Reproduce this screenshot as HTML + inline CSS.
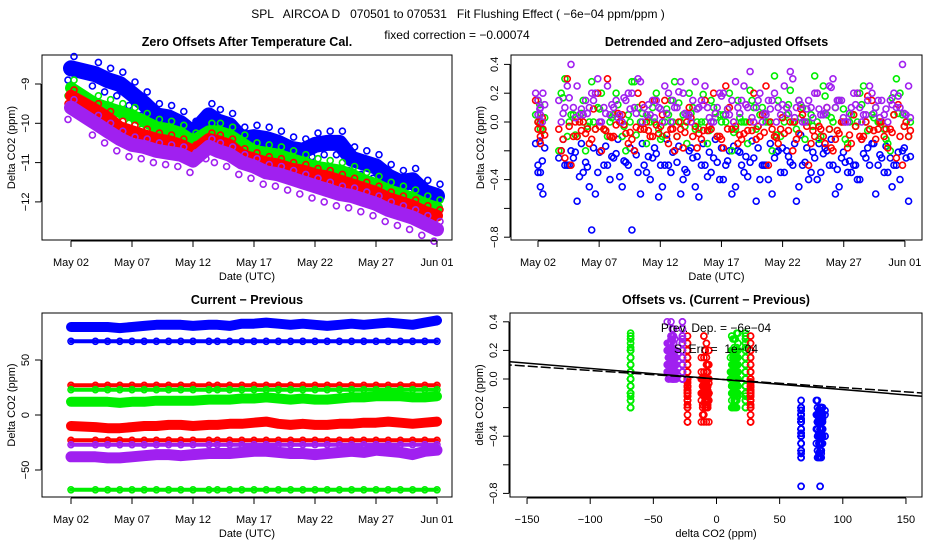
<!DOCTYPE html>
<html><head><meta charset="utf-8">
<style>
html,body{margin:0;padding:0;background:#fff;}
svg{display:block;font-family:"Liberation Sans",sans-serif;}
.pre{white-space:pre;}
</style></head>
<body>
<svg id="chart" width="936" height="540" viewBox="0 0 936 540" xmlns="http://www.w3.org/2000/svg">
<defs><clipPath id="clip4"><rect x="510" y="313" width="412" height="184"/></clipPath></defs>
<text class="pre" x="458" y="18" font-size="12" text-anchor="middle">SPL   AIRCOA D   070501 to 070531   Fit Flushing Effect ( −6e−04 ppm/ppm )</text>
<text x="457" y="39" font-size="12" text-anchor="middle">fixed correction = −0.00074</text>
</svg>
<script>
// ---------- DATA ----------
const days1 = [1,3,4,5,6,7,8,9,10,11,12.3,13,14,15,16,17,18,19,20,21,22,23,24,25,26,27,28,29,30,31];
const blueOff = [-8.6,-8.75,-8.9,-9.0,-9.25,-9.5,-9.8,-9.85,-10.0,-10.25,-9.8,-9.95,-10.05,-10.4,-10.35,-10.4,-10.5,-10.65,-10.7,-10.55,-10.5,-10.5,-10.9,-11.0,-11.1,-11.35,-11.5,-11.45,-11.75,-11.85];
const greenOff = [-9.1,-9.5,-9.6,-9.7,-9.8,-9.95,-10.1,-10.15,-10.25,-10.45,-10.2,-10.2,-10.3,-10.5,-10.7,-10.75,-10.8,-10.9,-11.0,-11.1,-11.15,-11.2,-11.3,-11.45,-11.55,-11.7,-11.8,-11.9,-12.05,-12.15];
const redOff = [-9.3,-9.65,-9.85,-10.1,-10.2,-10.3,-10.4,-10.45,-10.55,-10.7,-10.4,-10.45,-10.55,-10.8,-10.9,-11.0,-11.05,-11.15,-11.2,-11.3,-11.35,-11.45,-11.55,-11.65,-11.75,-11.9,-12.0,-12.1,-12.25,-12.35];
const purpleOff = [-9.6,-10.0,-10.2,-10.4,-10.55,-10.6,-10.7,-10.75,-10.8,-10.95,-10.6,-10.7,-10.8,-11.0,-11.1,-11.25,-11.3,-11.4,-11.5,-11.6,-11.7,-11.8,-11.85,-11.95,-12.05,-12.2,-12.3,-12.4,-12.55,-12.7];
const blueDet = [-0.15,-0.3,-0.35,-0.25,-0.3,-0.2,-0.55,-0.35,-0.45,-0.5,-0.2,-0.3,-0.25,-0.38,-0.28,-0.75,-0.35,-0.3,-0.4,-0.22,-0.45,-0.3,-0.2,-0.5,-0.35,-0.25,-0.52,-0.3,-0.35,-0.28,-0.4,-0.2,-0.45,-0.3,-0.38,-0.25,-0.4,-0.3,-0.5,-0.2,-0.35,-0.28,-0.55,-0.3,-0.4,-0.25,-0.35,-0.2,-0.3,-0.45,-0.28,-0.35,-0.4,-0.22,-0.3,-0.5,-0.25,-0.35,-0.3,-0.4,-0.25];
const redDet = [0.15,-0.05,-0.1,-0.05,-0.25,-0.3,-0.1,0.0,-0.15,-0.05,-0.2,0.3,-0.1,0.0,-0.08,-0.12,0.2,-0.05,-0.1,-0.02,0.05,-0.15,-0.2,-0.05,0.0,-0.1,-0.08,0.15,-0.05,-0.1,-0.18,0.1,-0.03,-0.12,-0.06,0.2,-0.1,0.25,-0.05,-0.15,-0.08,0.0,-0.12,0.05,-0.3,-0.1,-0.05,0.1,-0.2,-0.08,0.0,-0.15,0.2,-0.1,-0.05,-0.12,0.0,-0.18,0.05,-0.1,0.0];
const greenDet = [0.05,0.0,-0.05,-0.2,0.3,0.05,-0.1,0.15,0.0,-0.05,0.2,-0.1,0.05,0.0,-0.2,0.28,0.1,-0.05,0.0,0.2,-0.1,0.05,0.28,0.0,-0.15,0.1,-0.05,0.0,0.15,-0.1,0.05,0.2,-0.05,0.0,-0.15,0.1,0.05,0.0,-0.2,0.15,0.0,0.22,-0.05,0.1,0.0,0.32,-0.1,0.05,0.0,0.15,-0.12,0.05,0.0,0.25,-0.05,0.1,0.0,-0.15,0.05,0.2,0.0];
const purpleDet = [0.2,0.15,0.05,0.15,0.1,0.4,0.25,0.05,0.1,0.2,0.0,0.25,0.1,0.05,0.15,0.2,0.3,0.1,0.05,0.15,0.0,0.2,0.1,0.28,0.05,0.15,0.1,0.25,0.0,0.1,0.2,0.05,0.28,0.15,0.1,0.0,0.2,0.05,0.15,0.1,0.25,0.35,0.1,0.0,0.15,0.2,0.05,0.1,0.3,0.15,0.0,0.1,0.2,0.05,0.25,0.1,0.15,0.0,0.2,0.1,0.05];
const blueCP = [80,80,80,79,80,81,82,82,82,81,82,82,81,83,83,84,83,82,83,82,81,82,83,82,83,84,83,82,84,86];
const blueFlat = [67,67,67,67,67,67,67,67,67,67,67,67,67,67,67,67,67,67,67,67,67,67,67,67,67,67,67,67,67,67];
const redFlatHi = [27,27,27,27,27,27,27,27,27,27,27,27,27,27,27,27,27,27,27,27,27,27,27,27,27,27,27,27,27,27];
const greenFlatHi = [23,23,23,23,23,23,23,23,23,23,23,23,23,23,23,23,23,23,23,23,23,23,23,23,23,23,23,23,23,23];
const greenCP = [12,12,12,11,12,12,13,13,13,13,14,14,14,15,15,16,15,14,15,14,14,15,16,16,17,17,17,16,16,17];
const redCP = [-10,-11,-12,-12,-11,-10,-10,-9,-9,-10,-9,-9,-8,-8,-7,-6,-8,-9,-8,-9,-9,-8,-8,-7,-7,-6,-7,-8,-7,-6];
const redFlatLo = [-23,-23,-23,-23,-23,-23,-23,-23,-23,-23,-23,-23,-23,-23,-23,-23,-23,-23,-23,-23,-23,-23,-23,-23,-23,-23,-23,-23,-23,-23];
const purpleFlat = [-27,-27,-27,-27,-27,-27,-27,-27,-27,-27,-27,-27,-27,-27,-27,-27,-27,-27,-27,-27,-27,-27,-27,-27,-27,-27,-27,-27,-27,-27];
const purpleCP = [-38,-38,-39,-39,-38,-37,-36,-36,-37,-36,-35,-35,-35,-34,-33,-33,-34,-35,-35,-36,-35,-34,-33,-34,-32,-33,-34,-36,-33,-32];
const greenFlatLo = [-68,-68,-68,-68,-68,-68,-68,-68,-68,-68,-68,-68,-68,-68,-68,-68,-68,-68,-68,-68,-68,-68,-68,-68,-68,-68,-68,-68,-68,-68];
const fitSlopes = [-0.0006,-0.00074];
const dateTickDays = [1,6,11,16,21,26,31];
const dateTickLabels = ["May 02","May 07","May 12","May 17","May 22","May 27","Jun 01"];
const p1Ticks = [-9,-10,-11,-12];
const p2Ticks = [0.4,0.2,0.0,-0.2,-0.4,-0.6,-0.8];
const p2TickLabels = ["0.4","0.2","0.0","","−0.4","","−0.8"];
const p3Ticks = [50,0,-50];
const p4XTicks = [-150,-100,-50,0,50,100,150];
const p4YTicks = [0.4,0.2,0.0,-0.2,-0.4,-0.6,-0.8];

// ---------- AXES ----------
const x1 = d => 71 + (d - 1) * 12.2;
const y1 = v => 84 + (-9 - v) * 39.3;
const x2 = d => 538 + (d - 1) * 12.23;
const y2 = v => 122 - v * 144;
const x3 = x1;
const y3 = v => 415 - v * 1.1;
const x4 = v => 716.5 + v * 1.263;
const y4 = v => 379 - v * 143;

const C = {blue:"#0000ff", red:"#ff0000", green:"#00ee00", purple:"#a020f0"};
const NS = "http://www.w3.org/2000/svg";
const svg = document.getElementById('chart');
function mk(tag, attrs, parent){
  const e = document.createElementNS(NS, tag);
  for (const k in attrs) e.setAttribute(k, attrs[k]);
  (parent || svg).appendChild(e);
  return e;
}
function detDay(i, n){ return i < 3 ? 0.8 + 0.2 * i : 2.7 + (i - 3) * (28.4 / (n - 4)); }

function panelFrame(name, box, title){
  const g = mk('g', {});
  
  
  const r = mk('rect', {x:box[0], y:box[1], width:box[2]-box[0], height:box[3]-box[1], fill:'none', stroke:'#000', 'stroke-width':1}, g);
  
  
  const t = mk('text', {x:(box[0]+box[2])/2, y:box[1]-9, 'font-size':12.5, 'font-weight':'bold', 'text-anchor':'middle'}, g);
  t.textContent = title;
  
  
  return g;
}
function xAxis(g, box, ticks, labels, fx, title){
  const yb = box[3];
  mk('line', {x1:fx(ticks[0]), x2:fx(ticks[ticks.length-1]), y1:yb+1, y2:yb+1, stroke:'#000'}, g);
  ticks.forEach((t, i) => {
    mk('line', {x1:fx(t), x2:fx(t), y1:yb+1, y2:yb+7, stroke:'#000'}, g);
    const tx = mk('text', {x:fx(t), y:yb+26, 'font-size':11, 'text-anchor':'middle'}, g);
    tx.textContent = labels[i];
    
    
  });
  const at = mk('text', {x:(box[0]+box[2])/2, y:yb+40, 'font-size':11, 'text-anchor':'middle'}, g);
  at.textContent = title;
  
  
}
function yAxis(g, box, ticks, labels, fy, title){
  const xl = box[0];
  mk('line', {x1:xl-1, x2:xl-1, y1:fy(ticks[0]), y2:fy(ticks[ticks.length-1]), stroke:'#000'}, g);
  ticks.forEach((t, i) => {
    mk('line', {x1:xl-7, x2:xl-1, y1:fy(t), y2:fy(t), stroke:'#000'}, g);
    if (labels[i] === '') return;
    const tx = mk('text', {x:0, y:0, 'font-size':11, 'text-anchor':'middle', transform:`translate(${xl-13},${fy(t)}) rotate(-90)`}, g);
    tx.textContent = labels[i];
    
    
  });
  const at = mk('text', {x:0, y:0, 'font-size':11, 'text-anchor':'middle', transform:`translate(${xl-27},${(box[1]+box[3])/2}) rotate(-90)`}, g);
  at.textContent = title;
  
  
}
function band(g, xs, ys, color, w, name){
  let seg = [];
  const segs = [];
  for (let i = 0; i < xs.length; i++){
    if (i > 0 && xs[i] - xs[i-1] > 30){ segs.push(seg); seg = []; }
    seg.push(xs[i].toFixed(1) + ',' + ys[i].toFixed(1));
  }
  segs.push(seg);
  segs.forEach(s => {
    const p = mk('polyline', {points:s.join(' '), fill:'none', stroke:color, 'stroke-width':w, 'stroke-linejoin':'round', 'stroke-linecap':'round'}, g);
    
    
  });
}
function pt(g, x, y, color, name){
  const c = mk('circle', {cx:x.toFixed(1), cy:y.toFixed(1), r:3, fill:'none', stroke:color, 'stroke-width':1.6}, g);
  
  
}

// ---------- PANEL 1 ----------
(function(){
  const box = [42,55,452,240];
  const g = panelFrame('panel-zero-offsets', box, 'Zero Offsets After Temperature Cal.');
  const series = [[blueOff,C.blue,'blue',0.3,0.3,16],[greenOff,C.green,'green',0.2,0.2,12],[redOff,C.red,'red',0.15,0.2,12],[purpleOff,C.purple,'purple',0.2,0.3,14]];
  series.forEach(([vals, col, nm, up, dn, w]) => {
    const xs = days1.map(x1);
    band(g, xs, vals.map(v => y1(v)), col, w, nm + '-offset-band');
    vals.forEach((v, i) => {
      pt(g, x1(days1[i]) + 3, y1(v + up), col, nm + '-offset-point');
      pt(g, x1(days1[i]) - 3, y1(v - dn), col, nm + '-offset-point');
    });
  });
  xAxis(g, box, dateTickDays, dateTickLabels, x1, 'Date (UTC)');
  yAxis(g, box, p1Ticks, p1Ticks.map(v => String(v).replace('-','−')), y1, 'Delta CO2 (ppm)');
})();

// ---------- PANEL 2 ----------
(function(){
  const box = [511,55,922,240];
  const g = panelFrame('panel-detrended-offsets', box, 'Detrended and Zero−adjusted Offsets');
  [[blueDet,C.blue,'blue'],[greenDet,C.green,'green'],[redDet,C.red,'red'],[purpleDet,C.purple,'purple']].forEach(([vals, col, nm]) => {
    const n = vals.length;
    vals.forEach((v, i) => {
      const d = detDay(i, n);
      pt(g, x2(d), y2(v), col, nm + '-detrended-point');
      pt(g, x2(d + 0.2), y2(vals[(i + 7) % n]), col, nm + '-detrended-point');
      pt(g, x2(d + 0.35), y2(vals[(i + 19) % n] * 0.6), col, nm + '-detrended-point');
    });
  });
  xAxis(g, box, dateTickDays, dateTickLabels, x2, 'Date (UTC)');
  yAxis(g, box, p2Ticks, p2TickLabels, y2, 'Delta CO2 (ppm)');
})();

// ---------- PANEL 3 ----------
(function(){
  const box = [42,313,452,497];
  const g = panelFrame('panel-current-minus-previous', box, 'Current − Previous');
  const series = [[blueCP,C.blue,'blue',10],[blueFlat,C.blue,'blue-flat',4],[redFlatHi,C.red,'red-flat-high',4],[greenFlatHi,C.green,'green-flat-high',4],[greenCP,C.green,'green',10],[redCP,C.red,'red',10],[redFlatLo,C.red,'red-flat-low',4],[purpleFlat,C.purple,'purple-flat',4],[purpleCP,C.purple,'purple',11],[greenFlatLo,C.green,'green-flat-low',4]];
  series.forEach(([vals, col, nm, w]) => {
    band(g, days1.map(x3), vals.map(y3), col, w, nm + '-diff-band');
    vals.forEach((v, i) => pt(g, x3(days1[i]), y3(v), col, nm + '-diff-point'));
  });
  xAxis(g, box, dateTickDays, dateTickLabels, x3, 'Date (UTC)');
  yAxis(g, box, p3Ticks, p3Ticks.map(v => String(v).replace('-','−')), y3, 'Delta CO2 (ppm)');
})();

// ---------- PANEL 4 ----------
(function(){
  const box = [510,313,922,497];
  const g = panelFrame('panel-offsets-vs-diff', box, 'Offsets vs. (Current − Previous)');
  const cols = [[blueDet,C.blue,'blue',[blueCP,blueFlat]],[greenDet,C.green,'green',[greenCP,greenFlatHi,greenFlatLo]],[redDet,C.red,'red',[redCP,redFlatHi,redFlatLo]],[purpleDet,C.purple,'purple',[purpleCP,purpleFlat]]];
  cols.forEach(([vals, col, nm, xsers]) => {
    const n = vals.length;
    vals.forEach((v, i) => {
      const d = detDay(i, n);
      let k = 0; let best = 1e9;
      days1.forEach((dd, j) => { if (Math.abs(dd - d) < best){ best = Math.abs(dd - d); k = j; } });
      xsers.forEach(xs => {
        pt(g, x4(xs[k]), y4(v), col, nm + '-scatter-point');
        pt(g, x4(xs[(k + 9) % xs.length]), y4(vals[(i + 11) % n]), col, nm + '-scatter-point');
      });
    });
  });
  const lg = mk('g', {'clip-path':'url(#clip4)'}, g);
  fitSlopes.forEach((s, i) => {
    const l = mk('line', {x1:x4(-170), y1:y4(-170*s), x2:x4(170), y2:y4(170*s), stroke:'#000', 'stroke-width':1.5, 'stroke-dasharray': i === 0 ? '10,3' : 'none'}, lg);
    
    
  });
  const t1 = mk('text', {x:716, y:332, 'font-size':12, 'text-anchor':'middle'}, g);
  t1.textContent = 'Prev. Dep. = −6e−04';
  
  
  const t2 = mk('text', {x:716, y:353, 'font-size':12, 'text-anchor':'middle', class:'pre'}, g);
  t2.textContent = 'S. Err. =  1e−04';
  
  
  xAxis(g, box, p4XTicks, p4XTicks.map(v => String(v).replace('-','−')), x4, 'delta CO2 (ppm)');
  yAxis(g, box, p4YTicks, p2TickLabels, y4, 'delta CO2 (ppm)');
})();
</script>
</body></html>
